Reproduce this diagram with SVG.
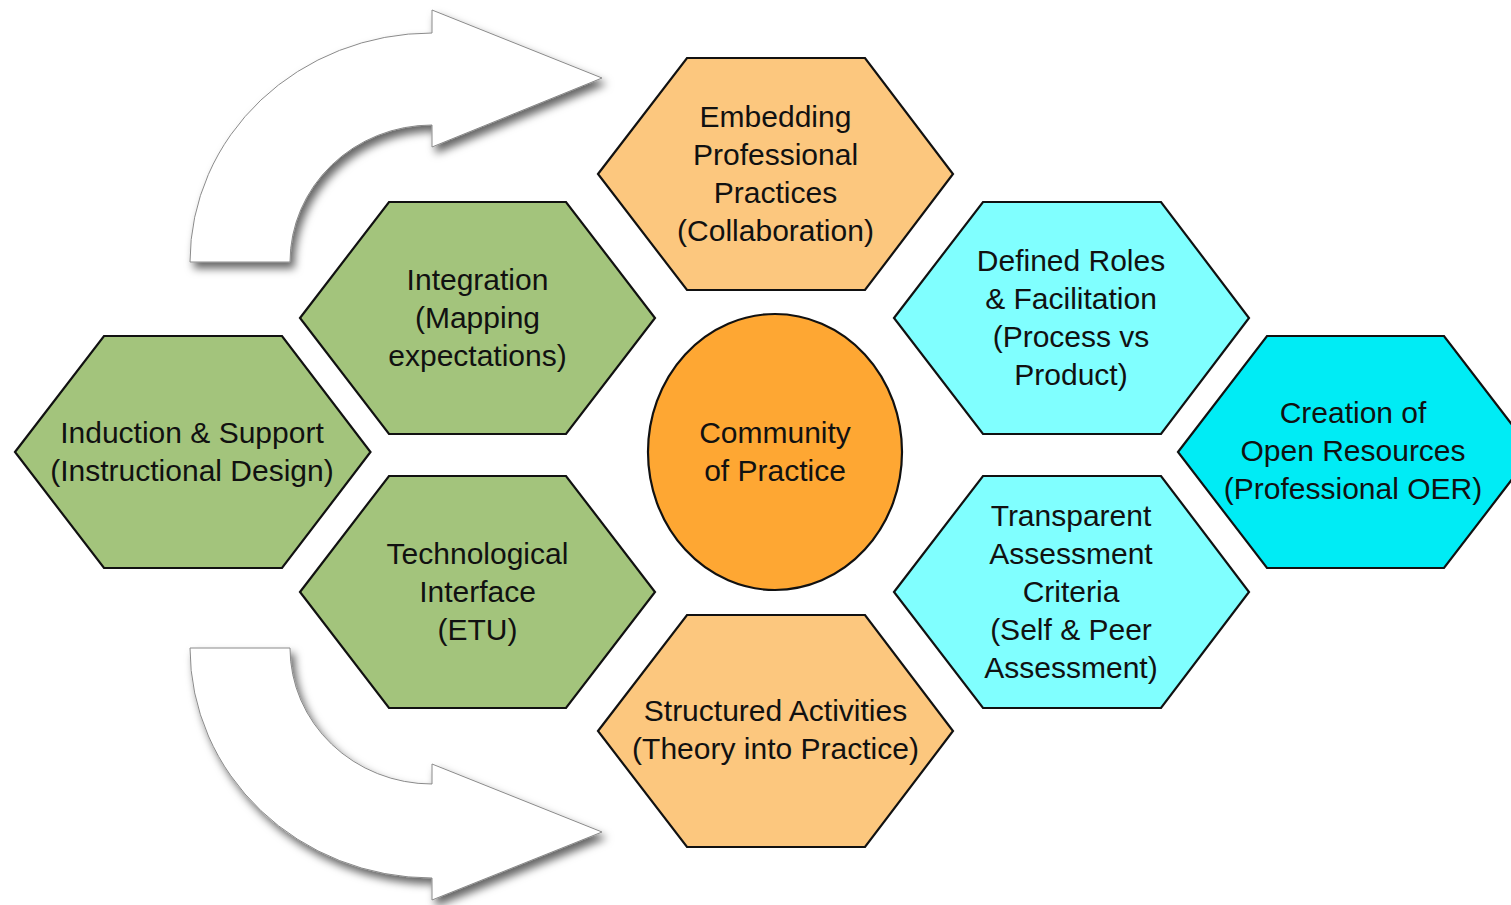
<svg xmlns="http://www.w3.org/2000/svg" width="1511" height="905" viewBox="0 0 1511 905">
<style>
  .hex { stroke: #111; stroke-width: 2.2; stroke-linejoin: miter; }
  .green { fill: #A3C47C; }
  .orange { fill: #FCC77E; }
  .cyan { fill: #80FFFF; }
  .cyan2 { fill: #00ECF5; }
  .core { fill: #FEA733; stroke: #111; stroke-width: 2.2; }
  .lbl { font-family: "Liberation Sans", Arial, Helvetica, sans-serif; font-size: 30px; fill: #111; text-anchor: middle; }
  .arrow { fill: #FFFFFF; stroke: #8A8A8A; stroke-width: 1; filter: url(#shadow); }
</style>
<defs>
  <filter id="shadow" x="-20%" y="-20%" width="150%" height="150%">
    <feDropShadow dx="4" dy="6" stdDeviation="4.5" flood-color="#000" flood-opacity="0.6"/>
  </filter>
</defs>
<rect width="1511" height="905" fill="#FFFFFF"/>

<g id="connectors">
  <path id="arrow-top" class="arrow" d="M190,262 A242,229 0 0 1 432,33 L432,10 L602,78 L432,147 L432,125 A142,137 0 0 0 290,262 Z"/>
  <path id="arrow-bottom" class="arrow" d="M190,648 A242,230 0 0 0 432,878 L432,900 L602,832 L432,764 L432,784 A142,136 0 0 1 290,648 Z"/>
</g>

<g id="node-embedding">
  <polygon class="hex orange" points="598,174 687,58 865,58 953,174 865,290 687,290"/>
  <text class="lbl" x="775.5" y="127">Embedding</text>
  <text class="lbl" x="775.5" y="165">Professional</text>
  <text class="lbl" x="775.5" y="203">Practices</text>
  <text class="lbl" x="775.5" y="241">(Collaboration)</text>
</g>

<g id="node-integration">
  <polygon class="hex green" points="300,318 389,202 566,202 655,318 566,434 389,434"/>
  <text class="lbl" x="477.5" y="290">Integration</text>
  <text class="lbl" x="477.5" y="328">(Mapping</text>
  <text class="lbl" x="477.5" y="366">expectations)</text>
</g>

<g id="node-induction">
  <polygon class="hex green" points="15,452 104,336 282,336 370.5,452 282,568 104,568"/>
  <text class="lbl" x="192" y="443">Induction &amp; Support</text>
  <text class="lbl" x="192" y="481">(Instructional Design)</text>
</g>

<g id="node-technological">
  <polygon class="hex green" points="300,592 389,476 566,476 655,592 566,708 389,708"/>
  <text class="lbl" x="477.5" y="564">Technological</text>
  <text class="lbl" x="477.5" y="602">Interface</text>
  <text class="lbl" x="477.5" y="640">(ETU)</text>
</g>

<g id="node-community">
  <ellipse class="core" cx="775" cy="452" rx="127" ry="138"/>
  <text class="lbl" x="775" y="443">Community</text>
  <text class="lbl" x="775" y="481">of Practice</text>
</g>

<g id="node-structured">
  <polygon class="hex orange" points="598,731 687,615 865,615 953,731 865,847 687,847"/>
  <text class="lbl" x="775.5" y="721">Structured Activities</text>
  <text class="lbl" x="775.5" y="759">(Theory into Practice)</text>
</g>

<g id="node-defined">
  <polygon class="hex cyan" points="894,318 983,202 1161,202 1249,318 1161,434 983,434"/>
  <text class="lbl" x="1071" y="271">Defined Roles</text>
  <text class="lbl" x="1071" y="309">&amp; Facilitation</text>
  <text class="lbl" x="1071" y="347">(Process vs</text>
  <text class="lbl" x="1071" y="385">Product)</text>
</g>

<g id="node-transparent">
  <polygon class="hex cyan" points="894,592 983,476 1161,476 1249,592 1161,708 983,708"/>
  <text class="lbl" x="1071" y="526">Transparent</text>
  <text class="lbl" x="1071" y="564">Assessment</text>
  <text class="lbl" x="1071" y="602">Criteria</text>
  <text class="lbl" x="1071" y="640">(Self &amp; Peer</text>
  <text class="lbl" x="1071" y="678">Assessment)</text>
</g>

<g id="node-creation">
  <polygon class="hex cyan2" points="1178,452 1267,336 1444,336 1533,452 1444,568 1267,568"/>
  <text class="lbl" x="1353" y="423">Creation of</text>
  <text class="lbl" x="1353" y="461">Open Resources</text>
  <text class="lbl" x="1353" y="499">(Professional OER)</text>
</g>
</svg>
